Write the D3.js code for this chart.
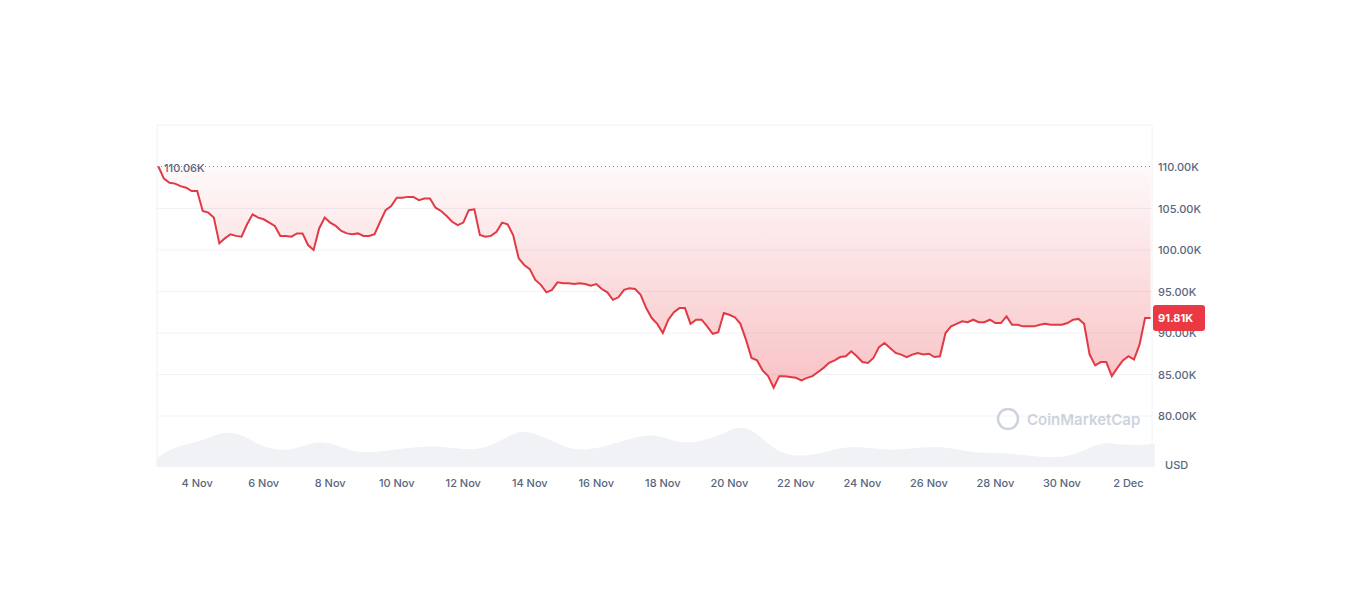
<!DOCTYPE html>
<html><head><meta charset="utf-8">
<script src="https://cdn.jsdelivr.net/npm/d3@7"></script>
<style>
body{margin:0;background:#fff;font-family:Inter,"Noto Sans",sans-serif;}
.tick-lbl{fill:#58667e;font-size:11px;font-weight:500;}
</style></head><body>
<div id="chart"></div>
<script>
// price series, 4-hour steps starting 2 Nov 20:00 (values in thousands USD)
const START = new Date(2024, 10, 2, 20);
const STEP_H = 4;
const PRICES = [110.06,108.6,108.1,108.0,107.7,107.5,107.1,107.1,104.7,104.5,103.9,100.8,101.4,101.9,101.7,101.6,
  103.1,104.3,103.9,103.7,103.3,102.9,101.7,101.7,101.6,102.0,102.0,100.6,100.0,102.6,103.9,103.3,102.9,102.3,
  102.0,101.9,102.0,101.7,101.7,101.9,103.4,104.8,105.3,106.3,106.3,106.4,106.4,106.0,106.2,106.2,105.1,104.7,
  104.1,103.4,103.0,103.3,104.8,104.9,101.8,101.6,101.7,102.2,103.3,103.1,101.8,99.0,98.2,97.7,96.4,95.8,94.9,
  95.2,96.1,96.0,96.0,95.9,96.0,95.9,95.7,95.9,95.3,94.9,94.0,94.3,95.2,95.4,95.3,94.6,93.0,91.8,91.1,90.0,91.6,
  92.5,93.0,93.0,91.1,91.6,91.6,90.8,89.9,90.1,92.4,92.2,91.9,91.1,89.2,87.0,86.7,85.5,84.8,83.4,84.8,84.8,84.7,
  84.6,84.3,84.6,84.8,85.3,85.8,86.4,86.7,87.1,87.2,87.8,87.2,86.5,86.4,87.0,88.3,88.8,88.2,87.6,87.4,87.1,87.4,
  87.6,87.4,87.5,87.1,87.2,90.0,90.8,91.1,91.4,91.3,91.6,91.3,91.3,91.6,91.2,91.2,92.0,91.0,91.0,90.8,90.8,90.8,
  91.0,91.1,91.0,91.0,91.0,91.2,91.6,91.7,91.1,87.4,86.1,86.5,86.5,84.8,85.8,86.7,87.2,86.8,88.6,91.81,91.81];
// volume, 12-hour steps starting 2 Nov 19:00 (billions USD)
const VOL_START = new Date(2024, 10, 2, 19);
const VOLUMES = [10,21,25,30,38,36,25,18,18,24,28,22,15,16,18,20,22,22,20,18,22,32,40,34,26,18,19,22,28,33,35,
  28,25,29,35,45,38,20,12,12,15,20,22,20,18,19,21,22,19,16,15,15,13,11,10,12,20,27,24,23,25];
const Y_TICKS = [110, 105, 100, 95, 90, 85, 80];
const HIGH = 110.06, LAST = 91.81;

const W = 1360, H = 610;
const L = 157, R = 1152, T = 125, B = 467;
const data = PRICES.map((p, i) => ({t: d3.timeHour.offset(START, i * STEP_H), p}));
const vol = VOLUMES.map((v, i) => ({t: d3.timeHour.offset(VOL_START, i * 12), v}));

const svg = d3.select("#chart").append("svg").attr("width", W).attr("height", H);

const x = d3.scaleTime().domain([new Date(2024, 10, 2, 19), new Date(2024, 11, 2, 17)]).range([L, R]);
const y = d3.scaleLinear().domain([80, 110]).range([416, 167]);
const yv = d3.scaleLinear().domain([0, 45]).range([B, B - 42]);

// frame
svg.append("line").attr("x1", L).attr("x2", R).attr("y1", T).attr("y2", T).attr("stroke", "#eff2f5");
svg.append("line").attr("x1", L).attr("x2", L).attr("y1", T).attr("y2", B).attr("stroke", "#eff2f5");
svg.append("line").attr("x1", R).attr("x2", R).attr("y1", T).attr("y2", B).attr("stroke", "#eff2f5");

// grid
svg.selectAll(".grid").data(Y_TICKS.slice(1)).enter().append("line")
  .attr("x1", L).attr("x2", R).attr("y1", d => y(d)).attr("y2", d => y(d))
  .attr("stroke", "#eff2f5");

// volume
svg.append("path").datum(vol)
  .attr("d", d3.area().x(d => x(d.t)).y0(B).y1(d => yv(d.v)).curve(d3.curveBasis))
  .attr("fill", "#f1f2f5");

// gradient fill above the line
const grad = svg.append("defs").append("linearGradient").attr("id", "g")
  .attr("gradientUnits", "userSpaceOnUse").attr("x1", 0).attr("x2", 0).attr("y1", y(HIGH)).attr("y2", y(82));
grad.append("stop").attr("offset", 0).attr("stop-color", "#ea3943").attr("stop-opacity", 0.03);
grad.append("stop").attr("offset", 1).attr("stop-color", "#ea3943").attr("stop-opacity", 0.32);
svg.append("path").datum(data)
  .attr("d", d3.area().x(d => x(d.t)).y0(y(HIGH)).y1(d => y(d.p)))
  .attr("fill", "url(#g)");

// high marker
svg.append("line").attr("x1", L).attr("x2", R).attr("y1", y(HIGH)).attr("y2", y(HIGH))
  .attr("stroke", "#808a9d").attr("stroke-dasharray", "1,3");
svg.append("text").attr("x", 164).attr("y", y(HIGH) + 5).attr("fill", "#58667e")
  .attr("font-size", 11).attr("font-weight", 500).text(HIGH.toFixed(2) + "K");

// price line
svg.append("path").datum(data)
  .attr("d", d3.line().x(d => x(d.t)).y(d => y(d.p)))
  .attr("fill", "none").attr("stroke", "#e23a45").attr("stroke-width", 2);

// watermark
const wm = svg.append("g").attr("transform", "translate(1008,419)").attr("opacity", 0.55);
wm.append("circle").attr("r", 10).attr("fill", "none").attr("stroke", "#a6b0c3").attr("stroke-width", 2.5);
wm.append("text").attr("x", 19).attr("y", 6).attr("fill", "#a6b0c3").attr("font-size", 15)
  .attr("font-weight", 600).text("CoinMarketCap");

// y axis labels
svg.selectAll(".yl").data(Y_TICKS).enter().append("text").attr("class", "tick-lbl")
  .attr("x", 1158).attr("y", d => y(d) + 4).text(d => d.toFixed(2) + "K");
svg.append("text").attr("class", "tick-lbl").attr("x", 1165).attr("y", 469)
  .attr("font-size", 12).attr("font-weight", 700).text("USD");

// last price badge
svg.append("rect").attr("x", 1153).attr("y", y(LAST) - 13).attr("width", 52).attr("height", 26)
  .attr("rx", 3).attr("fill", "#ea3943");
svg.append("text").attr("x", 1158).attr("y", y(LAST) + 4).attr("fill", "#fff")
  .attr("font-size", 11).attr("font-weight", 700).text(LAST.toFixed(2) + "K");

// x axis labels
const xt = d3.timeDay.range(new Date(2024, 10, 4), new Date(2024, 11, 3), 2);
svg.selectAll(".xl").data(xt).enter().append("text").attr("class", "tick-lbl")
  .attr("x", d => x(d)).attr("y", 487).attr("text-anchor", "middle")
  .text(d => d3.timeFormat("%-d %b")(d));
</script></body></html>
